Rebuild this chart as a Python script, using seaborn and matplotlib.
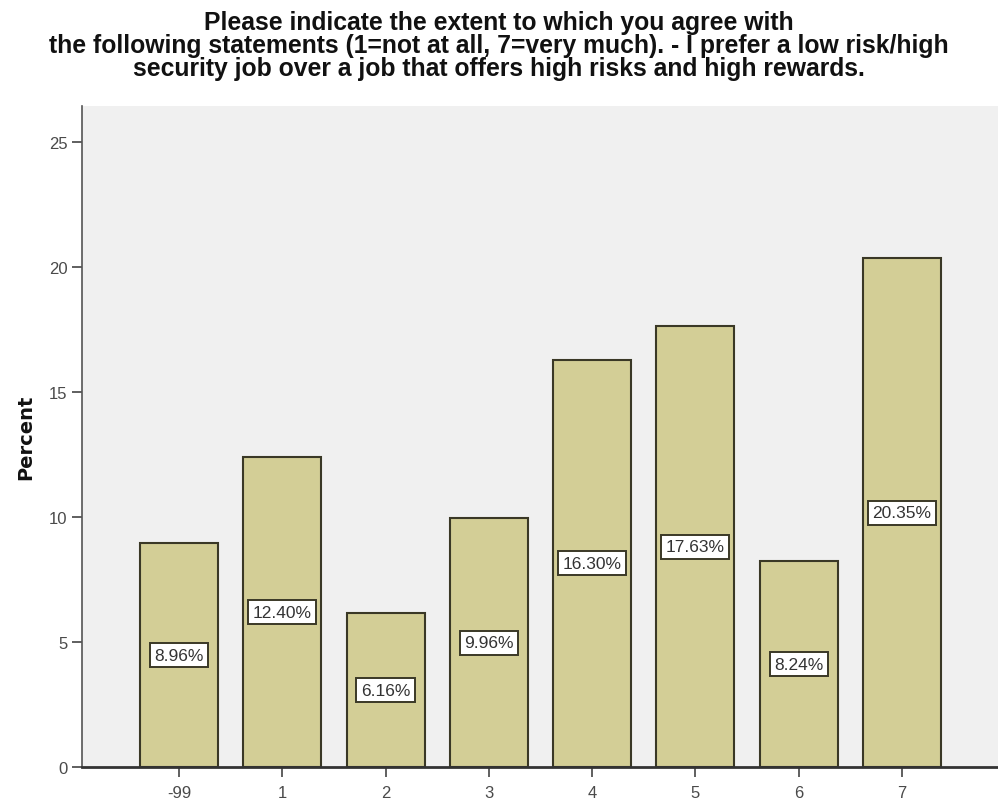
import matplotlib
matplotlib.use("Agg")
import matplotlib.pyplot as plt
import seaborn as sns
import pandas as pd

# Response categories and their share of respondents (%)
categories = ["-99", "1", "2", "3", "4", "5", "6", "7"]
percents = [8.96, 12.40, 6.16, 9.96, 16.30, 17.63, 8.24, 20.35]
y_ticks = [0, 5, 10, 15, 20, 25]

title = ("Please indicate the extent to which you agree with\n"
         "the following statements (1=not at all, 7=very much). - I prefer a low risk/high\n"
         "security job over a job that offers high risks and high rewards.")

sns.set_theme(style="white")
plt.rcParams["font.family"] = ["Liberation Sans Narrow", "Liberation Sans", "DejaVu Sans"]

df = pd.DataFrame({"category": categories, "percent": percents})

fig = plt.figure(figsize=(9.98, 8.03), dpi=100)
ax = fig.add_axes([0.0822, 0.0436, 0.9178, 0.8231])
ax.set_facecolor("#F0F0F0")

sns.barplot(data=df, x="category", y="percent", order=categories,
            color="#D3CE96", edgecolor="#3A3826", linewidth=1.5,
            width=0.755, saturation=1, ax=ax)

# Value labels in white boxes at mid-height of each bar
for patch, val in zip(ax.patches, percents):
    cx = patch.get_x() + patch.get_width() / 2
    ax.text(cx, val / 2, f"{val:.2f}%", ha="center", va="center",
            fontsize=12.5, color="#333333",
            family=["Liberation Sans", "DejaVu Sans"],
            bbox=dict(boxstyle="square,pad=0.26", facecolor="white",
                      edgecolor="#3A3826", linewidth=1.4))

ax.set_xlim(-0.94, 7.93)
ax.set_ylim(0, 26.45)
ax.set_yticks(y_ticks)
ax.set_xlabel("")
ax.set_ylabel("Percent", fontsize=14, fontweight="bold", color="#111111",
              family=["DejaVu Sans"], labelpad=10)

ax.tick_params(axis="both", which="both", direction="out", length=7, width=1.2,
               color="#444444", labelcolor="#4A4A4A", labelsize=12,
               bottom=True, left=True)
ax.tick_params(axis="x", pad=6)
for lbl in ax.get_xticklabels() + ax.get_yticklabels():
    lbl.set_family(["Liberation Sans", "DejaVu Sans"])

for side in ["top", "right"]:
    ax.spines[side].set_visible(False)
ax.spines["left"].set_color("#555555")
ax.spines["left"].set_linewidth(1.2)
ax.spines["bottom"].set_color("#333333")
ax.spines["bottom"].set_linewidth(2.0)

fig.text(0.5, 1 - 11 / 803, title, ha="center", va="top", fontsize=17.8,
         fontweight="bold", color="#111111", linespacing=0.96)

fig.savefig("out.png", dpi=100)
